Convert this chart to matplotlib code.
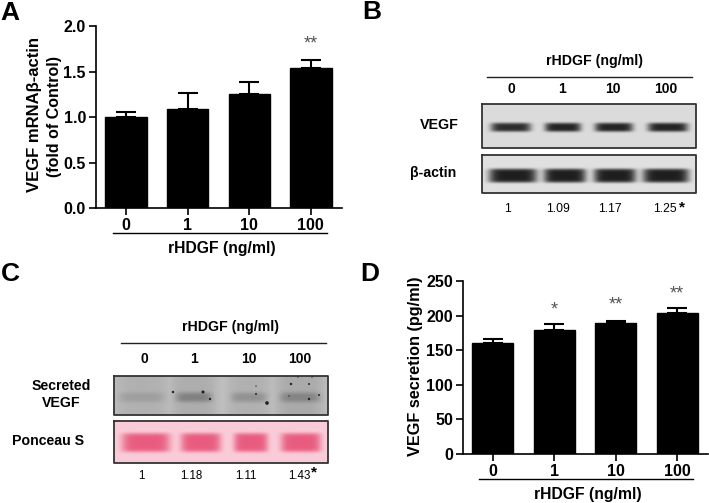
import numpy as np
import matplotlib
matplotlib.use("Agg")
import matplotlib.pyplot as plt

plt.rcParams['font.family'] = ['Liberation Sans', 'DejaVu Sans']
plt.rcParams['font.weight'] = 'bold'

W, H = 709, 503

doses = ['0', '1', '10', '100']

# panel A
mrna = [1.0, 1.09, 1.25, 1.54]
mrna_top = [1.06, 1.26, 1.385, 1.63]
mrna_stars = ['', '', '', '**']

# panel D
secretion = [160, 179, 190, 204]
secretion_top = [166, 188, 192.5, 211]
secretion_stars = ['', '*', '**', '**']

# panel B, C numbers under the blots
ratio_b = ['1', '1.09', '1.17', '1.25']
ratio_c = ['1', '1.18', '1.11', '1.43']

# blots: band centre x, half width, darkness
vegf_bands = [(511, 20, 0.90), (563, 18, 0.95), (614, 19, 0.95), (668, 20, 0.95)]
actin_bands = [(513, 24, 1.0), (565, 21, 1.0), (615, 21, 1.0), (666, 23, 1.0)]
secreted_bands = [(142, 23, 0.12), (194, 18, 0.30), (249, 18, 0.20), (300, 20, 0.26)]
secreted_lanes = [(142, 28, 0.10), (194, 24, 0.12), (249, 23, 0.10), (300, 25, 0.14)]
ponceau_bands = [(146, 24, 1.0), (201, 20, 1.0), (251, 17, 1.0), (301, 20, 1.0)]
specks_x = [173, 203, 210, 256, 256, 267, 291, 309, 319, 309, 298, 312, 289]
specks_y = [392, 392, 399, 386, 394, 403, 384, 384, 395, 399, 377, 377, 396]
specks_s = [3, 5, 3, 1, 2, 7, 3, 2, 2, 3, 1, 1, 1]


def px_axes(fig, x0, y0, x1, y1):
    return fig.add_axes([x0 / W, 1 - y1 / H, (x1 - x0) / W, (y1 - y0) / H])


def bar_panel(fig, box, vals, tops, ylim, yticks, ylabels, stars, star_ys):
    ax = px_axes(fig, *box)
    errs = [t - v for v, t in zip(vals, tops)]
    x = np.arange(4)
    ax.bar(x, vals, width=0.67, color='black', edgecolor='black',
           yerr=[[0] * 4, errs], capsize=7,
           error_kw=dict(ecolor='black', elinewidth=1.5, capthick=1.5))
    ax.set_xlim(-0.49, 3.5)
    ax.set_ylim(*ylim)
    ax.set_xticks(x)
    ax.set_xticklabels(doses)
    ax.set_yticks(yticks)
    ax.set_yticklabels(ylabels)
    ax.tick_params(length=5, width=1.2, labelsize=11.5, pad=2)
    for s in ['top', 'right']:
        ax.spines[s].set_visible(False)
    for s in ['left', 'bottom']:
        ax.spines[s].set_linewidth(1.2)
    for i in range(4):
        if stars[i]:
            ax.text(i, star_ys[i], stars[i], ha='center', va='center', fontsize=13,
                    color='#555555', fontweight='normal')
    return ax


def blot(ov, x0, y0, x1, y1, bands, yc, hh, bg, ink, lanes=(), yp=3):
    xs = np.arange(x0, x1, 0.5)
    ys = np.arange(y0, y1, 0.5)
    xx, yy = np.meshgrid(xs, ys)
    d = np.zeros_like(xx)
    for c, w, a in lanes:
        d = np.maximum(d, a * np.exp(-np.abs((xx - c) / w) ** 4))
    for c, w, a in bands:
        band = a * np.exp(-np.abs((xx - c) / w) ** 6) * np.exp(-np.abs((yy - yc) / hh) ** yp)
        d = d + band * (1 - d)
    img = np.zeros(xx.shape + (3,))
    for k in range(3):
        img[..., k] = bg[k] + (ink[k] - bg[k]) * d
    ov.imshow(img, extent=(x0, x1, y1, y0), aspect='auto', interpolation='bilinear', zorder=1)
    ov.plot([x0, x1, x1, x0, x0], [y0, y0, y1, y1, y0], color='#333333', lw=1.3, zorder=2)


fig = plt.figure(figsize=(W / 100, H / 100), dpi=100)

a = bar_panel(fig, (95.7, 26, 341.7, 208.3), mrna, mrna_top, (0, 2), [0, 0.5, 1, 1.5, 2],
              ['0.0', '0.5', '1.0', '1.5', '2.0'], mrna_stars, [0, 0, 0, 1.80])
d = bar_panel(fig, (462.7, 281, 708, 454), secretion, secretion_top, (0, 250),
              [0, 50, 100, 150, 200, 250], ['0', '50', '100', '150', '200', '250'],
              secretion_stars, [0, 208, 215, 231])

ov = fig.add_axes([0, 0, 1, 1], facecolor='none')
ov.axis('off')

# panel letters
for s, x, y in [('A', 10, 13), ('B', 371.5, 12), ('C', 10, 274), ('D', 370, 274)]:
    ov.text(x, y, s, fontsize=19, ha='center', va='center')

# bar panel labels
ov.text(34.3, 114.7, 'VEGF mRNA\u03b2-actin', rotation=90, fontsize=12, ha='center', va='center')
ov.text(55, 116, '(fold of Control)', rotation=90, fontsize=11.5, ha='center', va='center')
ov.plot([112.7, 327.3], [233, 233], color='black', lw=1)
ov.text(221.7, 249, 'rHDGF (ng/ml)', fontsize=11.3, ha='center', va='center')

ov.text(415.7, 365.8, 'VEGF secretion (pg/ml)', rotation=90, fontsize=11.7, ha='center', va='center')
ov.plot([479.3, 693.3], [479, 479], color='black', lw=1)
ov.text(587.7, 494.3, 'rHDGF (ng/ml)', fontsize=11.3, ha='center', va='center')

# panel B
ov.text(595, 61, 'rHDGF (ng/ml)', fontsize=10.2, ha='center', va='center')
ov.plot([486.7, 691.7], [77, 77], color='#222222', lw=1)
for s, x in zip(doses, [511, 561.7, 613, 666]):
    ov.text(x, 89, s, fontsize=10, ha='center', va='center')
blot(ov, 482.3, 103.7, 696, 147.7, vegf_bands, 126.7, 4.5, (0.86, 0.86, 0.86), (0.1, 0.1, 0.1), yp=4)
blot(ov, 482.3, 155.3, 696, 193.3, actin_bands, 175.7, 7, (0.88, 0.88, 0.88), (0.12, 0.12, 0.12), yp=6)
ov.text(439, 125, 'VEGF', fontsize=10.3, ha='center', va='center')
ov.text(432.7, 173, '\u03b2-actin', fontsize=10.2, ha='center', va='center')
for s, x in zip(ratio_b, [507.7, 558, 609.7, 665]):
    ov.text(x, 209, s, fontsize=8.8, fontweight='normal', ha='center', va='center')
ov.text(682, 207, '*', fontsize=11, ha='center', va='center')

# panel C
ov.text(230, 327.3, 'rHDGF (ng/ml)', fontsize=10.2, ha='center', va='center')
ov.plot([121, 325.7], [343, 343], color='#222222', lw=1)
for s, x in zip(doses, [144, 194.3, 249.3, 299.3]):
    ov.text(x, 359.3, s, fontsize=10, ha='center', va='center')
blot(ov, 114.3, 376, 328.3, 415, secreted_bands, 397, 5, (0.76, 0.76, 0.76), (0.1, 0.1, 0.1),
     lanes=secreted_lanes)
ov.scatter(specks_x, specks_y, s=specks_s, color='#222222', linewidths=0, zorder=3)
blot(ov, 114.3, 420.7, 328.3, 463, ponceau_bands, 442.7, 9.5, (0.98, 0.80, 0.85), (0.91, 0.36, 0.50), yp=6)
ov.text(61, 386, 'Secreted', fontsize=10.2, ha='center', va='center')
ov.text(61, 402.7, 'VEGF', fontsize=10.2, ha='center', va='center')
ov.text(48.3, 440.7, 'Ponceau S', fontsize=10.2, ha='center', va='center')
for s, x in zip(ratio_c, [141.7, 191.7, 245.7, 299.3]):
    ov.text(x, 476, s, fontsize=8.3, fontweight='normal', ha='center', va='center')
ov.text(314, 472.5, '*', fontsize=11, ha='center', va='center')

ov.set_xlim(0, W)
ov.set_ylim(H, 0)

fig.savefig('out.png', dpi=100)
